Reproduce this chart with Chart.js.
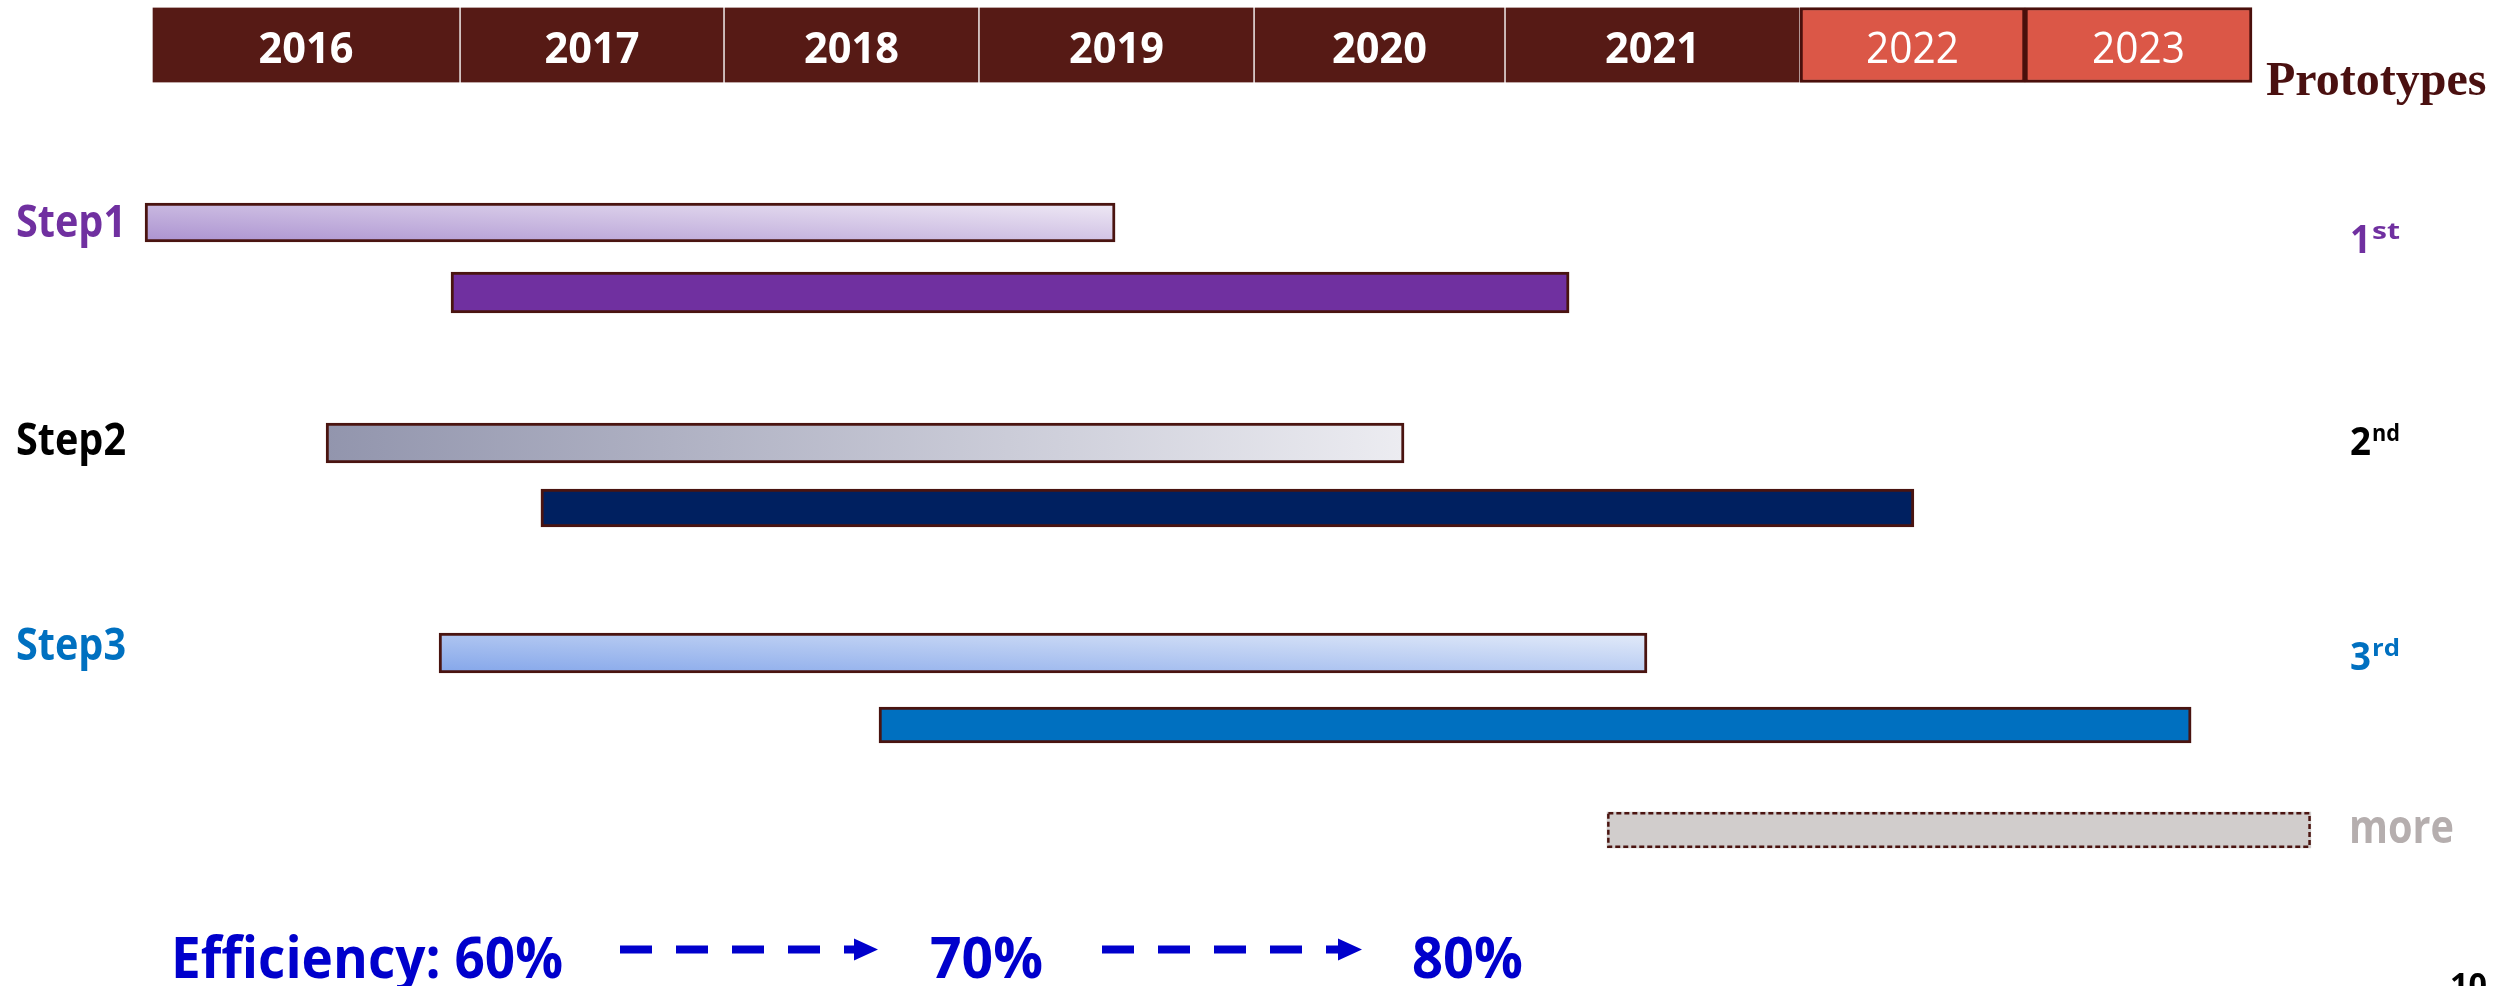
<!DOCTYPE html>
<html>
<head>
<meta charset="utf-8">
<title>Prototype roadmap</title>
<script src="https://cdn.jsdelivr.net/npm/chart.js@4.4.1/dist/chart.umd.min.js"></script>
<style>
  html, body { margin: 0; padding: 0; background: #ffffff; overflow: hidden; }
  canvas { display: block; }
</style>
</head>
<body>
<canvas id="roadmap" width="2504" height="986"></canvas>
<script>
// ---- Data (timeline position: 0 = start of 2016 box, 100 = end of 2023 box) ----
const years = ['2016', '2017', '2018', '2019', '2020', '2021', '2022', '2023'];
const yearEdges = [0, 14.67, 27.24, 39.38, 52.48, 64.43, 78.48, 89.19, 100];
const plannedFrom = '2022';

const steps = ['Step1', 'Step2', 'Step3'];
const firstPhase = [[-0.33, 45.86], [8.29, 59.62], [13.67, 71.19]];
const secondPhase = [[14.24, 67.48], [18.52, 83.90], [34.62, 97.10]];
const moreSpan = [69.29, 102.80];

const prototypeLabels = [['1', 'st'], ['2', 'nd'], ['3', 'rd']];
const moreLabel = 'more';
const efficiencySteps = ['60%', '70%', '80%'];
const pageNumber = '10';

// ---- Layout and styles ----
const W = 2504, H = 986;
const lane = {
  years: { y: 45, h: 75 },
  first: [{ y: 222.5, h: 39 }, { y: 443, h: 40 }, { y: 653, h: 40 }],
  second: [{ y: 292.5, h: 41 }, { y: 508, h: 38 }, { y: 725, h: 36 }],
  more: { y: 830, h: 36 }
};
const stepColors = ['#7030a0', '#000000', '#0070c0'];
const secondColors = ['#7030a0', '#002060', '#0070c0'];
const firstGradients = [
  ['#ab92d0', '#efe9f5', 0.45],
  ['#9295ad', '#ececf1', 0],
  ['#84a6ea', '#e3ebf9', 0.45]
];
const outline = '#4a1410';

// Linear gradient running from the bar's bottom-left to its top-right corner;
// vShare sets how much of the colour change happens vertically.
function barGradient(c0, c1, vShare) {
  return (ctx) => {
    const chart = ctx.chart;
    const xs = chart.scales.x, ys = chart.scales.y;
    if (!chart.chartArea || !xs || !ys || !ctx.raw) return c0;
    const left = xs.getPixelForValue(ctx.raw.x[0]);
    const right = xs.getPixelForValue(ctx.raw.x[1]);
    const mid = ys.getPixelForValue(ctx.raw.y);
    const h = ctx.dataset.barThickness, w = right - left;
    const a = 1 - vShare, b = vShare;
    const L = 1 / ((a * a) / (w * w) + (b * b) / (h * h));
    const bottom = mid + h / 2;
    const g = chart.ctx.createLinearGradient(left, bottom, left + a * L / w, bottom - b * L / h);
    g.addColorStop(0, c0);
    g.addColorStop(1, c1);
    return g;
  };
}

// ---- Datasets ----
const plannedIndex = years.indexOf(plannedFrom);
const datasets = [];

datasets.push({
  label: 'years',
  data: years.map((yr, i) => ({ x: [yearEdges[i], yearEdges[i + 1]], y: lane.years.y })),
  barThickness: lane.years.h,
  backgroundColor: years.map((yr, i) => i >= plannedIndex ? '#db5747' : '#561a15'),
  borderColor: years.map((yr, i) => i >= plannedIndex ? '#4a100c' : '#ffffff'),
  borderWidth: years.map((yr, i) => i >= plannedIndex ? 3 : { left: 1, right: 1, top: 0, bottom: 0 }),
  borderSkipped: false
});

steps.forEach((s, i) => {
  datasets.push({
    label: s + ' a',
    data: [{ x: firstPhase[i], y: lane.first[i].y }],
    barThickness: lane.first[i].h,
    backgroundColor: barGradient(...firstGradients[i]),
    borderColor: outline,
    borderWidth: 3,
    borderSkipped: false
  });
  datasets.push({
    label: s + ' b',
    data: [{ x: secondPhase[i], y: lane.second[i].y }],
    barThickness: lane.second[i].h,
    backgroundColor: secondColors[i],
    borderColor: outline,
    borderWidth: 3,
    borderSkipped: false
  });
});

datasets.push({
  label: 'more',
  data: [{ x: moreSpan, y: lane.more.y }],
  barThickness: lane.more.h,
  backgroundColor: '#d1cdcc',
  borderWidth: 0,
  borderSkipped: false
});

// ---- Text helper: draws text, optionally squeezed to a given width ----
function drawText(c, text, x, y, font, color, opts = {}) {
  c.save();
  c.font = font;
  c.fillStyle = color;
  c.textBaseline = 'alphabetic';
  c.textAlign = 'left';
  const natural = c.measureText(text).width;
  const w = opts.width || natural;
  const sx = w / natural;
  const ox = opts.align === 'center' ? x - w / 2 : x;
  c.translate(ox, y);
  c.scale(sx, 1);
  c.fillText(text, 0, 0);
  c.restore();
  return w;
}

function dashedArrow(c, x0, x1, y, color) {
  c.save();
  c.strokeStyle = color;
  c.fillStyle = color;
  c.lineWidth = 8;
  c.setLineDash([32, 24]);
  c.beginPath();
  c.moveTo(x0, y);
  c.lineTo(x1 - 18, y);
  c.stroke();
  c.setLineDash([]);
  c.beginPath();
  c.moveTo(x1 - 24, y - 11);
  c.lineTo(x1, y);
  c.lineTo(x1 - 24, y + 11);
  c.closePath();
  c.fill();
  c.restore();
}

const annotations = {
  id: 'annotations',
  afterDatasetsDraw(chart) {
    const c = chart.ctx;
    const xs = chart.scales.x, ys = chart.scales.y;

    // dashed outline around the open-ended bar
    const meta = chart.getDatasetMeta(chart.data.datasets.length - 1);
    meta.data.forEach(el => {
      const p = el.getProps(['x', 'y', 'base', 'height'], true);
      c.save();
      c.strokeStyle = outline;
      c.lineWidth = 2.5;
      c.setLineDash([5, 3]);
      c.strokeRect(Math.min(p.base, p.x) + 1.25, p.y - p.height / 2 + 1.25,
                   Math.abs(p.x - p.base) - 2.5, p.height - 2.5);
      c.restore();
    });

    // year labels in the header boxes
    years.forEach((yr, i) => {
      const cx = xs.getPixelForValue((yearEdges[i] + yearEdges[i + 1]) / 2);
      const planned = i >= plannedIndex;
      drawText(c, yr, cx, ys.getPixelForValue(lane.years.y) + 18,
        (planned ? '400 ' : '700 ') + '43px "Open Sans"', '#ffffff',
        { align: 'center', width: planned ? 93 : 95 });
    });

    drawText(c, 'Prototypes', 2266, 95, 'bold 48px "Liberation Serif"', '#4a1010');

    // step labels on the left
    const stepBase = [237, 455, 660];
    steps.forEach((s, i) => {
      drawText(c, s, 16, stepBase[i], '700 44px "Open Sans"', stepColors[i], { width: 110 });
    });

    // prototype ordinals on the right
    const ordBase = [253, 455, 670];
    prototypeLabels.forEach((p, i) => {
      const w = drawText(c, p[0], 2350, ordBase[i], '700 39px "Open Sans"', stepColors[i], { width: 21 });
      drawText(c, p[1], 2350 + w + 1, ordBase[i] - 14, '700 24px "Open Sans"', stepColors[i], { width: 28 });
    });
    drawText(c, moreLabel, 2349, 843, '700 46px "Open Sans"', '#b5aeae', { width: 105 });

    // efficiency progression
    const blue = '#0000cc';
    const effFont = '700 57px "Open Sans"';
    drawText(c, 'Efficiency: ' + efficiencySteps[0], 171, 978, effFont, blue, { width: 392 });
    dashedArrow(c, 620, 878, 949.5, blue);
    drawText(c, efficiencySteps[1], 930, 978, effFont, blue, { width: 113 });
    dashedArrow(c, 1102, 1362, 949.5, blue);
    drawText(c, efficiencySteps[2], 1412, 978, effFont, blue, { width: 111 });

    drawText(c, pageNumber, 2450, 996, '700 33px "Open Sans"', '#000000', { width: 37 });
  }
};

// x axis spans the whole canvas: timeline 0..100 maps onto the header boxes
const X_MIN = -152 / 21;
const X_MAX = (W - 152) / 21;

new Chart(document.getElementById('roadmap'), {
  type: 'bar',
  data: { datasets },
  options: {
    indexAxis: 'y',
    responsive: false,
    animation: false,
    devicePixelRatio: 1,
    layout: { padding: 0 },
    datasets: { bar: { grouped: false } },
    plugins: { legend: { display: false }, tooltip: { enabled: false } },
    scales: {
      x: { type: 'linear', min: X_MIN, max: X_MAX, offset: false, display: false },
      y: { type: 'linear', min: 0, max: H, reverse: true, offset: false, display: false }
    }
  },
  plugins: [annotations]
});
</script>
</body>
</html>
